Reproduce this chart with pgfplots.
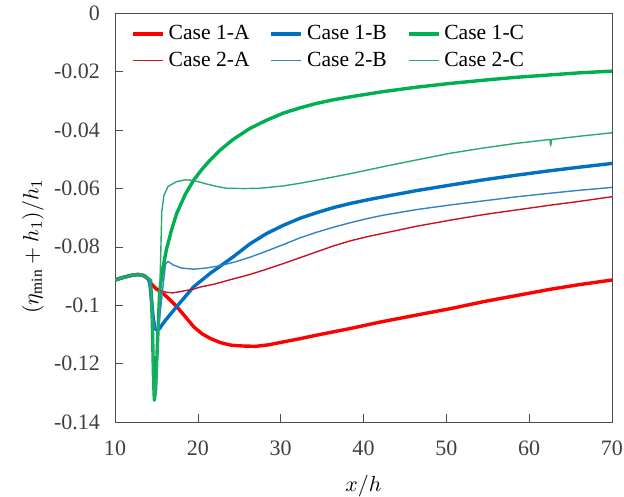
\documentclass[border=0pt]{standalone}
\usepackage{fontspec}
\setmainfont{Liberation Serif}
\usepackage{pgfplots}
\pgfplotsset{compat=1.18}
\definecolor{cOneA}{RGB}{255,0,0}
\definecolor{cTwoA}{RGB}{200,20,30}
\definecolor{cOneB}{RGB}{0,112,192}
\definecolor{cTwoB}{RGB}{50,130,200}
\definecolor{cOneC}{RGB}{0,176,80}
\definecolor{cTwoC}{RGB}{40,170,110}
\begin{document}
\begin{tikzpicture}
\begin{axis}[
  width=248.5pt, height=204.5pt, scale only axis,
  xmin=10, xmax=70, ymin=-0.14, ymax=0,
  xtick={10,20,30,40,50,60,70},
  xticklabels={10,20,30,40,50,60,70},
  ytick={-0.14,-0.12,-0.1,-0.08,-0.06,-0.04,-0.02,0},
  yticklabels={-0.14,-0.12,-0.1,-0.08,-0.06,-0.04,-0.02,0},
  tick align=inside, xtick pos=bottom, ytick pos=left,
  major tick length=4pt,
  axis line style={black!70},
  tick style={black!70},
  ticklabel style={font=\fontsize{11}{13}\selectfont, text=black!75},
  yticklabel style={xshift=-4pt},
  xticklabel style={yshift=-6pt},
  xlabel={$x/h$},
  xlabel style={at={(axis description cs:0.5,-0.156)}, anchor=center, font=\fontsize{11}{13}\selectfont},
  ylabel={$(\eta_{\mathrm{min}}+h_1)/h_1$},
  ylabel style={at={(axis description cs:-0.165,0.43)}, anchor=center, font=\fontsize{11}{13}\selectfont},
  legend columns=3,
  legend style={draw=none, fill=none, at={(axis description cs:0.02,0.99)}, anchor=north west,
    font=\fontsize{10.8}{12.5}\selectfont, /tikz/every even column/.append style={column sep=8pt}, row sep=0.5pt},
  legend image code/.code={\draw[#1] (0pt,0pt) -- (15pt,0pt);},
  every axis plot/.append style={line join=round},
]
\coordinate (SW) at (rel axis cs:0,0);
\coordinate (NE) at (rel axis cs:1,1);
% Case 1-A
\addplot[cOneA, line width=1.7pt] coordinates {
(10,-0.0914)(11,-0.0905)(12,-0.0898)(12.8,-0.0895)(13.5,-0.0899)(14,-0.0910)
(14.3,-0.0925)(15,-0.0945)(15.6,-0.0955)(16.5,-0.0978)(17.45,-0.1005)(18.5,-0.1040)
(19.5,-0.1074)(20.5,-0.1098)(21.5,-0.1114)(22.7,-0.1128)(24,-0.1137)(25.5,-0.1140)
(27,-0.1141)(28.5,-0.1136)(30.3,-0.1126)(32.3,-0.1115)(34.3,-0.1103)(38.4,-0.1080)(42,-0.1058)
(46.4,-0.1034)(50.5,-0.1012)(54.5,-0.0988)(58.5,-0.0967)(62.5,-0.0946)(66,-0.0930)(70,-0.0914)};
\addlegendentry{Case 1-A}
% Case 1-B
\addplot[cOneB, line width=1.7pt] coordinates {
(10,-0.0914)(11,-0.0905)(12,-0.0898)(12.8,-0.0895)(13.5,-0.0899)(14,-0.0910)
(14.2,-0.0925)(14.4,-0.0980)(14.6,-0.1040)(14.8,-0.1078)(15.0,-0.1085)(15.3,-0.1083)
(16,-0.1055)(17.45,-0.1005)(18.5,-0.0970)(19.5,-0.0937)(21.5,-0.0891)(24.3,-0.0834)
(26.3,-0.0790)(28.3,-0.0755)(30.3,-0.0727)(32.3,-0.0703)(34.4,-0.0683)(36.4,-0.0666)
(38.4,-0.0652)(40.4,-0.0640)(42.4,-0.0629)
(46.4,-0.0608)(50.5,-0.0589)(54.5,-0.0571)(58.5,-0.0555)(62.5,-0.0540)(66,-0.0528)(70,-0.0515)};
\addlegendentry{Case 1-B}
% Case 1-C
\addplot[cOneC, line width=1.7pt] coordinates {
(10,-0.0914)(11,-0.0905)(12,-0.0898)(12.8,-0.0895)(13.5,-0.0899)(14,-0.0910)
(14.3,-0.0915)(14.5,-0.1050)(14.65,-0.1250)(14.75,-0.1325)(14.9,-0.1290)(15.1,-0.1150)
(15.4,-0.0948)(15.8,-0.0870)(16.2,-0.0811)(16.8,-0.0745)(17.45,-0.0686)(18.5,-0.0620)
(19.5,-0.0572)(20.5,-0.0535)(21.5,-0.0503)(22.7,-0.0469)(24.3,-0.0432)(26.3,-0.0395)
(28.3,-0.0367)(30.3,-0.0343)(32.3,-0.0325)(34.4,-0.0309)(36.4,-0.0297)(38.4,-0.0287)(42.4,-0.0269)(46.4,-0.0254)
(50.5,-0.0241)(54.5,-0.0230)(58.5,-0.0220)(62.5,-0.0212)(66,-0.0205)(70,-0.0199)};
\addlegendentry{Case 1-C}
% Case 2-A
\addplot[cTwoA, line width=0.7pt] coordinates {
(10,-0.0914)(11,-0.0905)(12,-0.0898)(12.8,-0.0895)(13.5,-0.0899)(14,-0.0910)
(14.3,-0.0925)(15,-0.0942)(15.5,-0.0950)(16.2,-0.0956)(17.0,-0.0958)(18,-0.0953)
(19.5,-0.0945)(20.3,-0.0938)(22,-0.0928)(24.3,-0.0910)(26.3,-0.0895)(28.3,-0.0877)
(30.3,-0.0858)(32.3,-0.0838)(34.4,-0.0817)(36.4,-0.0797)(38.4,-0.0780)(40.4,-0.0766)(42.4,-0.0754)(46.4,-0.0730)
(50.5,-0.0709)(54.5,-0.0690)(58.5,-0.0674)(62.5,-0.0658)(66,-0.0645)(70,-0.0629)};
\addlegendentry{Case 2-A}
% Case 2-B
\addplot[cTwoB, line width=0.7pt] coordinates {
(10,-0.0914)(11,-0.0905)(12,-0.0898)(12.8,-0.0895)(13.5,-0.0899)(14,-0.0910)
(14.2,-0.0925)(14.4,-0.0980)(14.6,-0.1040)(14.8,-0.1075)(15.0,-0.1082)(15.3,-0.1070)
(15.7,-0.0960)(16.1,-0.0860)(16.4,-0.0850)(17,-0.0862)(18,-0.0873)(19.5,-0.0877)
(21,-0.0873)(22.7,-0.0865)(24.5,-0.0852)(26.3,-0.0836)(28.3,-0.0815)(30.3,-0.0793)(32.3,-0.0770)
(34.4,-0.0750)(36.4,-0.0733)(38.4,-0.0718)(40.4,-0.0704)(42.4,-0.0692)(46.4,-0.0673)(50.5,-0.0657)(54.5,-0.0643)(58.5,-0.0629)
(62.5,-0.0617)(66,-0.0607)(70,-0.0597)};
\addlegendentry{Case 2-B}
% Case 2-C
\addplot[cTwoC, line width=0.7pt] coordinates {
(10,-0.0914)(11,-0.0905)(12,-0.0898)(12.8,-0.0895)(13.5,-0.0899)(14,-0.0910)
(14.3,-0.0915)(14.5,-0.1050)(14.65,-0.1250)(14.75,-0.1320)(15.0,-0.1260)(15.3,-0.1050)
(15.5,-0.0850)(15.65,-0.0680)(15.9,-0.0625)(16.4,-0.0594)(17.45,-0.0577)(18.5,-0.0571)
(19.5,-0.0573)(21,-0.0585)(22.5,-0.0595)(23.5,-0.0600)(25.5,-0.0601)(27.5,-0.0600)
(30.3,-0.0592)(32.3,-0.0583)(34.4,-0.0572)(36.4,-0.0561)(38.4,-0.0550)(42.4,-0.0526)(46.4,-0.0503)(50.5,-0.0480)
(54.5,-0.0462)(58.5,-0.0446)(62.5,-0.0433)(62.6,-0.0455)(62.7,-0.0433)(66,-0.0422)(70,-0.0410)};
\addlegendentry{Case 2-C}
\end{axis}
\pgfresetboundingbox
\path ([shift={(-57.5pt,-37pt)}]SW) rectangle ([shift={(6pt,6.5pt)}]NE);
\end{tikzpicture}
\end{document}
